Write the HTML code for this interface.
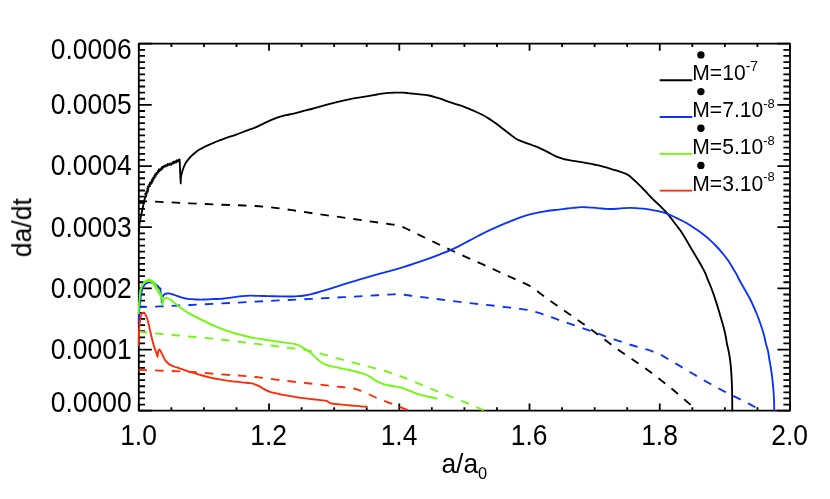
<!DOCTYPE html>
<html><head><meta charset="utf-8"><title>da/dt vs a/a0</title>
<style>
html,body{margin:0;padding:0;background:#fff;}
body{width:830px;height:499px;overflow:hidden;}
svg{display:block;}
text{font-family:"Liberation Sans",sans-serif;fill:#000;}
.c{fill:none;stroke-width:1.85;stroke-linejoin:round;stroke-linecap:butt;}
.d{stroke-dasharray:8.5 8.1;}
.f{fill:none;stroke:#000;stroke-width:1.8;}
.tk{font-size:26.4px;}
.lg{font-size:21.1px;}
</style></head><body>
<svg width="830" height="499" viewBox="0 0 830 499">
<rect x="0" y="0" width="830" height="499" fill="#fff"/>

<path class="f" d="M138.80,410.70 h13.0 M790.00,410.70 h-12.6 M138.80,404.58 h6.2 M790.00,404.58 h-6.6 M138.80,398.47 h6.2 M790.00,398.47 h-6.6 M138.80,392.35 h6.2 M790.00,392.35 h-6.6 M138.80,386.23 h6.2 M790.00,386.23 h-6.6 M138.80,380.12 h6.2 M790.00,380.12 h-6.6 M138.80,374.00 h6.2 M790.00,374.00 h-6.6 M138.80,367.88 h6.2 M790.00,367.88 h-6.6 M138.80,361.77 h6.2 M790.00,361.77 h-6.6 M138.80,355.65 h6.2 M790.00,355.65 h-6.6 M138.80,349.53 h13.0 M790.00,349.53 h-12.6 M138.80,343.42 h6.2 M790.00,343.42 h-6.6 M138.80,337.30 h6.2 M790.00,337.30 h-6.6 M138.80,331.18 h6.2 M790.00,331.18 h-6.6 M138.80,325.07 h6.2 M790.00,325.07 h-6.6 M138.80,318.95 h6.2 M790.00,318.95 h-6.6 M138.80,312.83 h6.2 M790.00,312.83 h-6.6 M138.80,306.72 h6.2 M790.00,306.72 h-6.6 M138.80,300.60 h6.2 M790.00,300.60 h-6.6 M138.80,294.48 h6.2 M790.00,294.48 h-6.6 M138.80,288.37 h13.0 M790.00,288.37 h-12.6 M138.80,282.25 h6.2 M790.00,282.25 h-6.6 M138.80,276.13 h6.2 M790.00,276.13 h-6.6 M138.80,270.02 h6.2 M790.00,270.02 h-6.6 M138.80,263.90 h6.2 M790.00,263.90 h-6.6 M138.80,257.78 h6.2 M790.00,257.78 h-6.6 M138.80,251.67 h6.2 M790.00,251.67 h-6.6 M138.80,245.55 h6.2 M790.00,245.55 h-6.6 M138.80,239.43 h6.2 M790.00,239.43 h-6.6 M138.80,233.32 h6.2 M790.00,233.32 h-6.6 M138.80,227.20 h13.0 M790.00,227.20 h-12.6 M138.80,221.08 h6.2 M790.00,221.08 h-6.6 M138.80,214.97 h6.2 M790.00,214.97 h-6.6 M138.80,208.85 h6.2 M790.00,208.85 h-6.6 M138.80,202.73 h6.2 M790.00,202.73 h-6.6 M138.80,196.62 h6.2 M790.00,196.62 h-6.6 M138.80,190.50 h6.2 M790.00,190.50 h-6.6 M138.80,184.38 h6.2 M790.00,184.38 h-6.6 M138.80,178.27 h6.2 M790.00,178.27 h-6.6 M138.80,172.15 h6.2 M790.00,172.15 h-6.6 M138.80,166.03 h13.0 M790.00,166.03 h-12.6 M138.80,159.92 h6.2 M790.00,159.92 h-6.6 M138.80,153.80 h6.2 M790.00,153.80 h-6.6 M138.80,147.68 h6.2 M790.00,147.68 h-6.6 M138.80,141.57 h6.2 M790.00,141.57 h-6.6 M138.80,135.45 h6.2 M790.00,135.45 h-6.6 M138.80,129.33 h6.2 M790.00,129.33 h-6.6 M138.80,123.22 h6.2 M790.00,123.22 h-6.6 M138.80,117.10 h6.2 M790.00,117.10 h-6.6 M138.80,110.98 h6.2 M790.00,110.98 h-6.6 M138.80,104.87 h13.0 M790.00,104.87 h-12.6 M138.80,98.75 h6.2 M790.00,98.75 h-6.6 M138.80,92.63 h6.2 M790.00,92.63 h-6.6 M138.80,86.52 h6.2 M790.00,86.52 h-6.6 M138.80,80.40 h6.2 M790.00,80.40 h-6.6 M138.80,74.28 h6.2 M790.00,74.28 h-6.6 M138.80,68.17 h6.2 M790.00,68.17 h-6.6 M138.80,62.05 h6.2 M790.00,62.05 h-6.6 M138.80,55.93 h6.2 M790.00,55.93 h-6.6 M138.80,49.82 h6.2 M790.00,49.82 h-6.6 M138.80,43.70 h13.0 M790.00,43.70 h-12.6 M138.80,410.70 v-7.1 M138.80,43.70 v7.1 M171.36,410.70 v-3.4 M171.36,43.70 v3.4 M203.92,410.70 v-3.4 M203.92,43.70 v3.4 M236.48,410.70 v-3.4 M236.48,43.70 v3.4 M269.04,410.70 v-7.1 M269.04,43.70 v7.1 M301.60,410.70 v-3.4 M301.60,43.70 v3.4 M334.16,410.70 v-3.4 M334.16,43.70 v3.4 M366.72,410.70 v-3.4 M366.72,43.70 v3.4 M399.28,410.70 v-7.1 M399.28,43.70 v7.1 M431.84,410.70 v-3.4 M431.84,43.70 v3.4 M464.40,410.70 v-3.4 M464.40,43.70 v3.4 M496.96,410.70 v-3.4 M496.96,43.70 v3.4 M529.52,410.70 v-7.1 M529.52,43.70 v7.1 M562.08,410.70 v-3.4 M562.08,43.70 v3.4 M594.64,410.70 v-3.4 M594.64,43.70 v3.4 M627.20,410.70 v-3.4 M627.20,43.70 v3.4 M659.76,410.70 v-7.1 M659.76,43.70 v7.1 M692.32,410.70 v-3.4 M692.32,43.70 v3.4 M724.88,410.70 v-3.4 M724.88,43.70 v3.4 M757.44,410.70 v-3.4 M757.44,43.70 v3.4 M790.00,410.70 v-7.1 M790.00,43.70 v7.1"/>
<rect class="f" stroke-linejoin="round" x="138.8" y="43.7" width="651.2" height="367.0"/>
<clipPath id="cp"><rect x="137.6" y="43.7" width="653.6" height="367.9"/></clipPath>
<g clip-path="url(#cp)">
<path class="c" stroke="#000" d="M138.80,232.00 C138.93,230.00 138.95,227.99 139.20,226.00 C139.66,222.33 140.48,218.72 141.20,215.10 C141.76,212.29 142.40,209.50 143.00,206.70 C143.53,204.23 143.81,201.70 144.60,199.30 C145.05,197.94 145.77,196.68 146.36,195.37 L145.09,193.85 L146.86,193.43 L146.10,192.09 L147.97,191.70 L147.06,190.30 L148.38,189.75 L147.29,188.24 L148.62,187.69 L148.04,186.30 L149.95,186.15 L149.13,184.61 L150.73,184.31 L149.88,182.70 L152.02,182.77 L151.34,181.23 L153.04,181.05 L152.08,179.32 L153.64,179.11 L153.17,177.64 L154.91,177.54 L154.29,175.98 L155.90,175.83 L155.15,174.12 L156.87,174.07 L156.49,172.61 L158.34,172.66 L157.79,171.03 L159.42,171.06 L159.01,169.24 L160.93,170.03 L160.90,168.35 L162.38,168.76 L162.26,166.79 L163.77,167.24 L164.00,165.72 L165.65,166.53 L165.98,164.96 L167.38,165.80 L167.74,163.97 L169.16,164.92 L169.76,163.54 L171.25,164.87 L171.67,163.12 L173.00,163.59 L173.26,161.78 L174.81,162.87 L175.26,161.25 L176.69,162.19 L176.84,160.28 L178.52,161.11 L178.76,159.59 L179.60,159.40 C179.70,161.63 179.80,163.87 179.90,166.10 C180.03,169.07 180.15,172.03 180.30,175.00 C180.44,177.80 180.60,180.60 180.75,183.40 C180.80,181.60 180.70,179.79 180.90,178.00 C181.07,176.45 181.43,174.92 181.80,173.40 C182.14,172.02 182.55,170.65 183.00,169.30 C183.36,168.22 183.74,167.14 184.20,166.10 C184.73,164.90 185.31,163.72 186.00,162.60 C186.54,161.72 187.18,160.92 187.80,160.10 C188.51,159.15 189.20,158.18 190.00,157.30 C190.84,156.37 191.77,155.54 192.70,154.70 C193.77,153.73 194.85,152.77 196.00,151.90 C197.25,150.96 198.56,150.10 199.90,149.30 C201.23,148.50 202.61,147.79 204.00,147.10 C205.41,146.39 206.86,145.75 208.30,145.10 C210.03,144.32 211.75,143.54 213.50,142.80 C215.39,142.00 217.29,141.25 219.20,140.50 C221.13,139.75 223.05,138.98 225.00,138.30 C226.65,137.72 228.34,137.25 230.00,136.70 C232.31,135.93 234.61,135.13 236.90,134.30 C239.95,133.20 242.97,132.04 246.00,130.90 C249.37,129.64 252.79,128.51 256.10,127.10 C258.10,126.25 260.04,125.24 262.00,124.30 C264.07,123.31 266.11,122.25 268.20,121.30 C270.11,120.42 272.03,119.55 274.00,118.80 C276.04,118.02 278.11,117.32 280.20,116.70 C282.11,116.13 284.05,115.65 286.00,115.20 C288.09,114.71 290.21,114.38 292.30,113.90 C295.55,113.15 298.76,112.22 302.00,111.40 C305.20,110.59 308.41,109.84 311.60,109.00 C314.74,108.17 317.87,107.27 321.00,106.40 C324.27,105.50 327.52,104.56 330.80,103.70 C333.86,102.90 336.92,102.12 340.00,101.40 C343.36,100.62 346.72,99.87 350.10,99.20 C353.39,98.54 356.70,97.98 360.00,97.40 C363.13,96.85 366.27,96.33 369.40,95.80 C371.93,95.37 374.46,94.92 377.00,94.50 C379.30,94.12 381.59,93.70 383.90,93.40 C385.59,93.18 387.30,93.02 389.00,92.90 C390.50,92.79 392.00,92.75 393.50,92.70 C395.00,92.65 396.50,92.60 398.00,92.60 C399.70,92.60 401.40,92.61 403.10,92.70 C404.74,92.78 406.37,92.95 408.00,93.10 C409.60,93.25 411.20,93.43 412.80,93.60 C415.20,93.86 417.60,94.12 420.00,94.40 C423.10,94.76 426.24,94.89 429.30,95.50 C431.92,96.03 434.45,96.90 437.00,97.70 C440.06,98.66 443.07,99.77 446.10,100.80 C449.07,101.80 452.03,102.80 455.00,103.80 C458.47,104.97 461.98,106.01 465.40,107.30 C468.31,108.40 471.16,109.64 474.00,110.90 C476.79,112.14 479.59,113.38 482.30,114.80 C484.42,115.91 486.47,117.13 488.50,118.40 C490.48,119.64 492.40,120.96 494.30,122.30 C496.40,123.79 498.44,125.35 500.50,126.90 C502.48,128.39 504.44,129.89 506.40,131.40 C508.11,132.72 509.78,134.09 511.50,135.40 C512.98,136.52 514.41,137.74 516.00,138.70 C517.43,139.56 518.96,140.25 520.50,140.90 C522.20,141.62 523.97,142.16 525.70,142.80 C528.14,143.70 530.58,144.57 533.00,145.50 C535.38,146.41 537.76,147.29 540.10,148.30 C541.76,149.01 543.38,149.80 545.00,150.60 C546.62,151.40 548.20,152.26 549.80,153.10 C551.37,153.93 552.90,154.83 554.50,155.60 C556.10,156.37 557.73,157.09 559.40,157.70 C560.91,158.25 562.45,158.71 564.00,159.10 C565.65,159.51 567.33,159.79 569.00,160.10 C571.99,160.65 575.00,161.10 578.00,161.60 C581.43,162.17 584.88,162.66 588.30,163.30 C590.21,163.66 592.10,164.09 594.00,164.50 C596.14,164.96 598.28,165.38 600.40,165.90 C602.61,166.44 604.81,167.07 607.00,167.70 C609.51,168.43 612.00,169.23 614.50,170.00 C616.33,170.56 618.18,171.09 620.00,171.70 C621.88,172.33 623.79,172.89 625.60,173.70 C626.61,174.15 627.57,174.70 628.50,175.30 C629.38,175.87 630.20,176.53 631.00,177.20 C633.06,178.93 634.97,180.83 636.90,182.70 C639.38,185.09 641.80,187.53 644.20,190.00 C647.04,192.93 649.71,196.02 652.60,198.90 C655.25,201.55 658.15,203.95 660.80,206.60 C662.93,208.73 665.03,210.92 667.00,213.20 C668.75,215.23 670.35,217.38 672.00,219.50 C673.62,221.58 675.20,223.70 676.80,225.80 C677.87,227.20 679.00,228.55 680.00,230.00 C682.14,233.08 684.06,236.30 686.00,239.50 C688.06,242.90 689.98,246.38 692.00,249.80 C694.01,253.21 696.11,256.57 698.10,260.00 C699.94,263.18 701.78,266.36 703.50,269.60 C704.23,270.98 704.97,272.37 705.60,273.80 C706.51,275.89 707.15,278.08 708.00,280.20 C708.98,282.65 710.13,285.04 711.10,287.50 C712.03,289.84 712.87,292.22 713.70,294.60 C714.54,297.02 715.32,299.46 716.10,301.90 C716.88,304.33 717.66,306.76 718.40,309.20 C719.13,311.59 719.80,314.00 720.50,316.40 C721.24,318.93 722.00,321.46 722.70,324.00 C723.43,326.66 724.18,329.31 724.80,332.00 C725.26,333.99 725.63,335.99 726.00,338.00 C726.37,339.99 726.61,342.01 727.00,344.00 C727.46,346.35 728.13,348.65 728.60,351.00 C729.10,353.49 729.54,355.99 729.90,358.50 C730.23,360.82 730.47,363.16 730.70,365.50 C730.94,367.96 731.13,370.43 731.30,372.90 C731.46,375.26 731.59,377.63 731.70,380.00 C731.82,382.47 731.93,384.93 732.00,387.40 C732.10,390.93 732.15,394.47 732.20,398.00 C732.26,402.53 732.27,407.07 732.30,411.60"/>
<path class="c d" stroke="#000" d="M138.50,201.00 C145.67,201.30 152.83,201.58 160.00,201.90 C170.00,202.34 180.00,202.83 190.00,203.30 C200.00,203.77 210.00,204.30 220.00,204.70 C228.03,205.02 236.07,205.12 244.10,205.50 C252.14,205.88 260.19,206.22 268.20,207.00 C276.27,207.79 284.28,209.07 292.30,210.20 C300.34,211.33 308.36,212.63 316.40,213.80 C324.43,214.97 332.47,216.07 340.50,217.20 C348.53,218.33 356.57,219.47 364.60,220.60 C372.63,221.73 380.66,222.88 388.70,224.00 C391.13,224.34 393.59,224.53 396.00,225.00 C397.59,225.31 399.17,225.69 400.70,226.20 C402.17,226.69 403.58,227.37 405.00,228.00 C406.75,228.77 408.48,229.57 410.20,230.40 C413.49,231.98 416.73,233.68 420.00,235.30 C424.69,237.62 429.38,239.94 434.10,242.20 C442.10,246.03 450.13,249.82 458.20,253.50 C466.20,257.15 474.29,260.59 482.30,264.20 C490.35,267.83 498.36,271.54 506.40,275.20 C511.60,277.57 516.81,279.90 522.00,282.30 C524.77,283.58 527.66,284.65 530.30,286.20 C532.67,287.59 534.79,289.37 537.00,291.00 C539.63,292.93 542.17,294.97 544.80,296.90 C548.69,299.76 552.65,302.52 556.60,305.30 C560.62,308.12 564.67,310.90 568.70,313.70 C573.50,317.03 578.34,320.31 583.10,323.70 C588.25,327.37 593.32,331.13 598.40,334.90 C604.33,339.30 610.10,343.90 616.10,348.20 C622.43,352.74 629.01,356.93 635.40,361.40 C641.08,365.37 646.75,369.35 652.30,373.50 C658.02,377.78 663.65,382.20 669.20,386.70 C674.07,390.65 678.83,394.73 683.60,398.80 C686.59,401.35 689.53,403.93 692.50,406.50"/>
<path class="c" stroke="#0a32ff" d="M138.50,325.00 C138.63,321.67 138.71,318.33 138.90,315.00 C139.05,312.33 139.25,309.66 139.50,307.00 C139.69,305.00 139.95,303.00 140.20,301.00 C140.45,299.00 140.66,296.99 141.00,295.00 C141.28,293.36 141.52,291.70 142.00,290.10 C142.36,288.90 142.81,287.71 143.40,286.60 C143.87,285.71 144.39,284.81 145.10,284.10 C145.64,283.56 146.30,283.10 147.00,282.80 C147.72,282.49 148.52,282.34 149.30,282.30 C150.11,282.26 150.91,282.44 151.70,282.60 C152.28,282.72 152.82,282.99 153.40,283.10 C153.71,283.16 154.03,283.15 154.34,283.17 L154.43,284.41 L155.56,284.21 L155.73,285.24 L156.97,285.09 L157.04,286.18 L158.09,286.22 L158.01,287.51 L159.19,287.39 L159.31,288.45 L160.53,288.31 C160.48,288.75 160.37,289.19 160.38,289.64 C160.44,291.79 161.23,293.86 161.45,296.00 C161.67,298.12 161.62,300.27 161.70,302.40 C161.80,301.47 161.87,300.53 162.00,299.60 C162.13,298.66 162.15,297.68 162.50,296.80 C162.75,296.17 163.14,295.60 163.60,295.10 C163.97,294.70 164.42,294.36 164.90,294.10 C165.46,293.80 166.08,293.62 166.70,293.50 C167.32,293.38 167.97,293.36 168.60,293.40 C169.41,293.45 170.21,293.60 171.00,293.80 C171.82,294.00 172.60,294.32 173.40,294.60 C174.61,295.02 175.79,295.48 177.00,295.90 C178.19,296.31 179.39,296.72 180.60,297.10 C181.73,297.45 182.85,297.83 184.00,298.10 C185.25,298.40 186.52,298.62 187.80,298.80 C189.19,298.99 190.60,299.08 192.00,299.20 C193.43,299.32 194.86,299.43 196.30,299.50 C197.70,299.57 199.10,299.60 200.50,299.60 C201.90,299.60 203.30,299.55 204.70,299.50 C206.30,299.45 207.90,299.38 209.50,299.30 C211.10,299.22 212.70,299.06 214.30,299.00 C216.20,298.92 218.10,299.02 220.00,298.90 C222.34,298.75 224.67,298.39 227.00,298.10 C229.50,297.79 232.00,297.42 234.50,297.10 C237.00,296.78 239.49,296.43 242.00,296.20 C244.69,295.96 247.40,295.75 250.10,295.70 C253.07,295.64 256.03,295.83 259.00,295.90 C262.07,295.97 265.13,296.03 268.20,296.10 C272.13,296.19 276.07,296.33 280.00,296.40 C284.10,296.47 288.20,296.59 292.30,296.50 C294.20,296.46 296.10,296.36 298.00,296.20 C300.11,296.03 302.21,295.82 304.30,295.50 C306.75,295.13 309.19,294.66 311.60,294.10 C313.59,293.64 315.54,293.06 317.50,292.50 C319.54,291.92 321.57,291.31 323.60,290.70 C326.41,289.85 329.20,288.98 332.00,288.10 C334.84,287.21 337.67,286.30 340.50,285.40 C343.67,284.40 346.83,283.39 350.00,282.40 C353.26,281.39 356.53,280.37 359.80,279.40 C363.03,278.44 366.26,277.53 369.50,276.60 C372.66,275.69 375.83,274.78 379.00,273.90 C382.16,273.02 385.33,272.17 388.50,271.30 C391.77,270.40 395.04,269.53 398.30,268.60 C400.21,268.05 402.10,267.48 404.00,266.90 C406.01,266.28 408.01,265.65 410.00,265.00 C413.35,263.90 416.67,262.76 420.00,261.60 C423.11,260.52 426.21,259.43 429.30,258.30 C432.88,257.00 436.45,255.67 440.00,254.30 C443.68,252.88 447.39,251.49 451.00,249.90 C453.88,248.63 456.69,247.22 459.50,245.80 C462.29,244.39 465.03,242.86 467.80,241.40 C471.03,239.69 474.26,237.99 477.50,236.30 C480.70,234.63 483.85,232.87 487.10,231.30 C490.35,229.73 493.69,228.34 497.00,226.90 C500.12,225.54 503.25,224.19 506.40,222.90 C509.58,221.59 512.78,220.30 516.00,219.10 C519.21,217.90 522.42,216.69 525.70,215.70 C528.93,214.72 532.21,213.95 535.50,213.20 C538.62,212.49 541.75,211.83 544.90,211.30 C548.08,210.76 551.30,210.40 554.50,210.00 C557.73,209.60 560.97,209.27 564.20,208.90 C567.13,208.57 570.06,208.19 573.00,207.90 C575.70,207.63 578.39,207.29 581.10,207.20 C583.07,207.13 585.03,207.22 587.00,207.30 C589.04,207.38 591.07,207.55 593.10,207.70 C595.40,207.88 597.70,208.10 600.00,208.30 C602.00,208.47 604.00,208.68 606.00,208.80 C608.00,208.92 610.00,209.03 612.00,209.00 C614.00,208.97 616.00,208.75 618.00,208.60 C620.03,208.45 622.06,208.22 624.10,208.10 C626.06,207.99 628.03,207.90 630.00,207.90 C632.03,207.90 634.07,207.98 636.10,208.10 C638.07,208.22 640.04,208.41 642.00,208.60 C644.07,208.80 646.14,208.99 648.20,209.30 C650.15,209.59 652.07,210.01 654.00,210.40 C656.07,210.81 658.15,211.19 660.20,211.70 C662.15,212.19 664.10,212.73 666.00,213.40 C668.14,214.15 670.22,215.08 672.30,216.00 C673.95,216.73 675.58,217.51 677.20,218.30 C678.88,219.11 680.54,219.95 682.20,220.80 C683.54,221.49 684.89,222.15 686.20,222.90 C688.18,224.03 690.09,225.27 692.00,226.50 C694.06,227.83 696.10,229.18 698.10,230.60 C700.14,232.05 702.14,233.55 704.10,235.10 C706.14,236.71 708.17,238.35 710.10,240.10 C712.18,241.98 714.16,243.97 716.10,246.00 C718.20,248.20 720.25,250.46 722.20,252.80 C724.30,255.32 726.35,257.89 728.20,260.60 C730.16,263.46 731.80,266.53 733.60,269.50 C734.57,271.10 735.60,272.66 736.50,274.30 C737.58,276.26 738.45,278.33 739.50,280.30 C740.80,282.74 742.23,285.10 743.60,287.50 C744.83,289.67 746.09,291.82 747.30,294.00 C748.49,296.15 749.70,298.30 750.80,300.50 C751.87,302.63 752.83,304.82 753.80,307.00 C754.76,309.15 755.72,311.31 756.60,313.50 C757.80,316.47 758.94,319.47 760.00,322.50 C761.11,325.64 762.15,328.81 763.10,332.00 C763.69,333.98 764.21,335.99 764.70,338.00 C765.18,339.99 765.50,342.02 766.00,344.00 C766.59,346.35 767.47,348.63 768.00,351.00 C768.55,353.47 768.78,356.00 769.20,358.50 C769.68,361.34 770.24,364.16 770.70,367.00 C771.17,369.93 771.62,372.86 772.00,375.80 C772.35,378.53 772.63,381.26 772.90,384.00 C773.16,386.56 773.42,389.13 773.60,391.70 C773.79,394.46 773.90,397.23 774.00,400.00 C774.14,403.87 774.20,407.73 774.30,411.60"/>
<path class="c d" stroke="#0a32ff" d="M138.50,307.20 C145.67,306.93 152.83,306.70 160.00,306.40 C170.00,305.98 180.00,305.48 190.00,305.00 C200.00,304.52 210.00,304.01 220.00,303.50 C232.03,302.88 244.07,302.22 256.10,301.60 C268.17,300.98 280.23,300.40 292.30,299.80 C304.33,299.20 316.37,298.63 328.40,298.00 C340.47,297.37 352.53,296.69 364.60,296.00 C371.40,295.61 378.20,295.20 385.00,294.80 C387.83,294.63 390.66,294.38 393.50,294.30 C395.00,294.26 396.50,294.24 398.00,294.30 C399.70,294.37 401.40,294.53 403.10,294.70 C406.34,295.03 409.57,295.50 412.80,295.90 C416.57,296.37 420.34,296.82 424.10,297.30 C432.14,298.33 440.16,299.48 448.20,300.50 C456.23,301.52 464.26,302.48 472.30,303.40 C480.33,304.32 488.37,305.08 496.40,306.00 C504.44,306.92 512.48,307.86 520.50,308.90 C522.67,309.18 524.85,309.42 527.00,309.80 C528.85,310.13 530.69,310.52 532.50,311.00 C534.36,311.49 536.17,312.11 538.00,312.70 C540.21,313.41 542.41,314.15 544.60,314.90 C552.66,317.66 560.65,320.61 568.70,323.40 C576.72,326.18 584.81,328.75 592.80,331.60 C596.59,332.95 600.32,334.45 604.10,335.80 C612.10,338.66 620.10,341.53 628.20,344.10 C633.76,345.87 639.42,347.31 645.00,349.00 C647.44,349.74 649.90,350.44 652.30,351.30 C653.89,351.87 655.45,352.54 657.00,353.20 C658.65,353.90 660.31,354.58 661.90,355.40 C664.00,356.49 665.96,357.81 668.00,359.00 C670.80,360.64 673.61,362.25 676.40,363.90 C684.46,368.66 692.39,373.64 700.50,378.30 C708.46,382.87 716.47,387.34 724.60,391.60 C732.55,395.77 740.75,399.43 748.70,403.60 C751.94,405.30 755.10,407.13 758.30,408.90"/>
<path class="c" stroke="#6cf90a" d="M138.60,314.00 C138.73,310.67 138.75,307.33 139.00,304.00 C139.20,301.37 139.58,298.76 139.87,296.14 L139.44,295.21 L140.04,294.45 L139.79,293.55 L140.45,292.79 L140.14,291.88 L140.66,291.11 L140.28,290.18 L140.90,289.45 L140.80,288.52 L141.59,287.88 L141.39,286.93 L142.02,286.23 L141.88,285.23 L142.83,284.82 L142.89,283.85 L143.81,283.43 L143.73,282.23 L144.90,282.29 L145.03,281.13 L146.35,281.72 L146.66,280.32 L147.65,281.11 L148.42,279.50 L149.33,280.66 L150.37,279.82 L150.65,281.66 L151.98,280.85 L151.88,282.29 L153.52,281.66 L152.75,283.53 L154.35,283.43 L153.78,284.88 L155.66,284.58 L154.93,286.08 L156.36,286.25 L155.41,287.76 L157.00,287.84 L156.42,289.17 L158.21,289.08 L157.60,290.44 L159.00,290.59 L158.04,292.19 L159.71,292.13 L159.19,293.48 L160.93,293.36 L159.90,295.02 L161.50,295.03 L160.84,296.44 L162.00,297.20 C162.07,298.47 162.13,299.73 162.20,301.00 C162.28,302.33 162.37,303.67 162.45,305.00 C162.63,303.93 162.73,302.85 163.00,301.80 C163.18,301.12 163.34,300.41 163.70,299.80 C163.98,299.33 164.36,298.92 164.80,298.60 C165.19,298.32 165.67,298.20 166.10,298.00 C166.73,298.10 167.39,298.10 168.00,298.30 C168.64,298.50 169.23,298.84 169.80,299.20 C170.87,299.87 171.82,300.71 172.80,301.50 C173.82,302.31 174.79,303.18 175.80,304.00 C176.98,304.95 178.18,305.89 179.40,306.80 C180.58,307.69 181.78,308.57 183.00,309.40 C184.64,310.51 186.32,311.56 188.00,312.60 C189.55,313.56 191.10,314.52 192.70,315.40 C194.11,316.18 195.56,316.88 197.00,317.60 C198.36,318.28 199.73,318.94 201.10,319.60 C203.23,320.64 205.36,321.68 207.50,322.70 C209.76,323.78 212.00,324.92 214.30,325.90 C216.17,326.70 218.10,327.38 220.00,328.10 C222.49,329.05 224.98,330.02 227.50,330.90 C230.12,331.82 232.74,332.71 235.40,333.50 C237.91,334.24 240.46,334.87 243.00,335.50 C245.59,336.14 248.19,336.76 250.80,337.30 C253.36,337.83 255.93,338.27 258.50,338.70 C261.09,339.14 263.70,339.50 266.30,339.90 C268.87,340.30 271.43,340.72 274.00,341.10 C276.56,341.48 279.13,341.85 281.70,342.20 C283.97,342.51 286.24,342.78 288.50,343.10 C290.74,343.41 293.01,343.54 295.20,344.10 C296.51,344.43 297.77,344.95 299.00,345.50 C300.35,346.11 301.63,346.86 302.90,347.60 C304.19,348.36 305.46,349.16 306.70,350.00 C308.03,350.89 309.36,351.79 310.60,352.80 C311.97,353.92 313.20,355.20 314.50,356.40 C315.77,357.57 316.98,358.80 318.30,359.90 C319.49,360.89 320.69,361.88 322.00,362.70 C323.27,363.49 324.62,364.14 326.00,364.70 C327.46,365.29 328.98,365.70 330.50,366.10 C332.21,366.55 333.97,366.84 335.70,367.20 C338.30,367.74 340.90,368.24 343.50,368.80 C346.04,369.34 348.57,369.90 351.10,370.50 C353.74,371.13 356.39,371.75 359.00,372.50 C361.52,373.22 364.10,373.84 366.50,374.90 C367.73,375.44 368.85,376.20 370.00,376.90 C371.53,377.83 372.97,378.88 374.50,379.80 C376.17,380.81 377.82,381.88 379.60,382.70 C381.02,383.35 382.50,383.86 384.00,384.30 C385.74,384.81 387.52,385.16 389.30,385.50 C391.19,385.86 393.10,386.07 395.00,386.40 C396.94,386.74 398.90,386.99 400.80,387.50 C402.06,387.84 403.27,388.35 404.50,388.80 C405.88,389.31 407.24,389.86 408.60,390.40 C410.24,391.05 411.86,391.75 413.50,392.40 C415.06,393.02 416.60,393.68 418.20,394.20 C419.78,394.71 421.39,395.11 423.00,395.50 C424.59,395.88 426.20,396.16 427.80,396.50 C429.37,396.83 430.94,397.15 432.50,397.50 C434.17,397.88 435.83,398.30 437.50,398.70"/>
<path class="c d" stroke="#6cf90a" d="M138.50,331.70 C145.67,332.40 152.83,333.12 160.00,333.80 C166.07,334.38 172.13,334.94 178.20,335.50 C185.47,336.17 192.73,336.82 200.00,337.50 C206.67,338.12 213.34,338.67 220.00,339.40 C226.44,340.11 232.86,341.02 239.30,341.80 C245.73,342.58 252.17,343.33 258.60,344.10 C265.00,344.86 271.40,345.60 277.80,346.40 C284.24,347.20 290.67,348.08 297.10,348.90 C299.73,349.24 302.37,349.52 305.00,349.90 C306.87,350.17 308.75,350.40 310.60,350.80 C313.10,351.34 315.54,352.11 318.00,352.80 C320.67,353.55 323.33,354.34 326.00,355.10 C332.43,356.92 338.85,358.76 345.30,360.50 C351.72,362.23 358.17,363.80 364.60,365.50 C368.44,366.51 372.28,367.53 376.10,368.60 C380.51,369.83 384.95,370.99 389.30,372.40 C395.81,374.51 402.23,376.90 408.60,379.40 C415.07,381.94 421.37,384.86 427.80,387.50 C434.21,390.13 440.67,392.63 447.10,395.20 C453.53,397.77 460.01,400.24 466.40,402.90 C472.20,405.31 477.93,407.90 483.70,410.40"/>
<path class="c" stroke="#ff2a00" d="M138.40,346.00 C138.57,342.00 138.68,338.00 138.90,334.00 C139.09,330.70 139.25,327.39 139.60,324.10 C139.80,322.23 140.04,320.35 140.40,318.50 C140.66,317.15 140.87,315.77 141.40,314.50 C141.62,313.96 142.00,313.50 142.30,313.00 L143.30,312.70 C143.70,312.93 144.16,313.09 144.50,313.40 C145.01,313.87 145.37,314.49 145.70,315.10 C146.20,316.02 146.54,317.02 146.90,318.00 C147.35,319.22 147.75,320.45 148.10,321.70 C148.57,323.38 148.92,325.10 149.30,326.80 C149.72,328.70 150.08,330.61 150.50,332.50 C150.97,334.61 151.48,336.70 152.00,338.80 C152.48,340.74 152.95,342.68 153.50,344.60 C153.87,345.88 154.28,347.14 154.70,348.40 C155.08,349.54 155.50,350.67 155.90,351.80 C156.20,352.67 156.50,353.53 156.80,354.40 C157.07,355.20 157.33,356.00 157.60,356.80 C157.73,355.53 157.81,354.26 158.00,353.00 C158.13,352.13 158.33,351.27 158.50,350.40 L159.50,349.40 C159.90,350.00 160.34,350.58 160.70,351.20 C161.15,351.97 161.51,352.80 161.90,353.60 C162.41,354.66 162.89,355.74 163.40,356.80 C163.89,357.81 164.28,358.87 164.90,359.80 C165.55,360.79 166.35,361.68 167.20,362.50 C168.00,363.28 168.85,364.02 169.80,364.60 C171.11,365.41 172.57,365.94 174.00,366.50 C175.37,367.04 176.80,367.43 178.20,367.90 C180.14,368.56 182.06,369.25 184.00,369.90 C186.06,370.59 188.13,371.24 190.20,371.90 C192.13,372.51 194.06,373.12 196.00,373.70 C198.09,374.32 200.19,374.92 202.30,375.50 C204.19,376.02 206.09,376.52 208.00,377.00 C210.09,377.52 212.18,378.08 214.30,378.50 C216.19,378.87 218.10,379.10 220.00,379.40 C222.50,379.80 225.00,380.23 227.50,380.60 C230.13,380.99 232.76,381.38 235.40,381.70 C238.26,382.05 241.13,382.31 244.00,382.60 C246.00,382.80 248.01,382.92 250.00,383.20 C250.94,383.33 251.88,383.47 252.80,383.70 C253.72,383.93 254.61,384.27 255.50,384.60 C256.55,384.99 257.60,385.40 258.60,385.90 C259.95,386.58 261.20,387.44 262.50,388.20 C263.76,388.94 264.98,389.77 266.30,390.40 C267.49,390.97 268.75,391.39 270.00,391.80 C271.31,392.23 272.66,392.57 274.00,392.90 C276.15,393.43 278.33,393.86 280.50,394.30 C282.83,394.77 285.16,395.18 287.50,395.60 C290.00,396.05 292.50,396.49 295.00,396.90 C297.63,397.33 300.26,397.74 302.90,398.10 C305.10,398.40 307.30,398.65 309.50,398.90 C311.80,399.16 314.10,399.34 316.40,399.60 C318.27,399.81 320.13,400.06 322.00,400.30 C323.50,400.49 325.06,400.43 326.50,400.90 C327.22,401.14 327.84,401.63 328.50,402.00 C329.27,402.43 329.97,403.01 330.80,403.30 C331.98,403.71 333.26,403.74 334.50,403.90 C336.16,404.12 337.83,404.24 339.50,404.40 C342.00,404.64 344.50,404.87 347.00,405.10 C349.67,405.34 352.33,405.57 355.00,405.80 C357.00,405.97 359.00,406.16 361.00,406.30 C363.17,406.46 365.33,406.57 367.50,406.70"/>
<path class="c d" stroke="#ff2a00" d="M138.50,369.90 C145.67,370.13 152.83,370.35 160.00,370.60 C166.07,370.82 172.14,371.02 178.20,371.30 C185.47,371.64 192.74,371.97 200.00,372.50 C206.68,372.98 213.33,373.78 220.00,374.30 C226.43,374.81 232.87,375.10 239.30,375.60 C245.74,376.10 252.18,376.60 258.60,377.30 C265.02,378.00 271.40,379.00 277.80,379.80 C284.23,380.60 290.66,381.37 297.10,382.10 C303.53,382.83 309.97,383.47 316.40,384.20 C322.84,384.93 329.26,385.80 335.70,386.50 C339.13,386.87 342.57,387.13 346.00,387.50 C347.70,387.68 349.41,387.83 351.10,388.10 C352.75,388.36 354.39,388.66 356.00,389.10 C357.60,389.53 359.16,390.10 360.70,390.70 C362.33,391.33 363.90,392.09 365.50,392.80 C367.14,393.53 368.77,394.26 370.40,395.00 C372.64,396.02 374.84,397.13 377.10,398.10 C381.12,399.82 385.23,401.31 389.30,402.90 C395.39,405.28 401.50,407.63 407.60,410.00"/>
</g>
<g style="will-change:transform">
<text class="tk" transform="translate(131.6,59.4) scale(1,1.090)" text-anchor="end">0.0006</text>
<text class="tk" transform="translate(131.6,114.1) scale(1,1.090)" text-anchor="end">0.0005</text>
<text class="tk" transform="translate(131.6,175.0) scale(1,1.090)" text-anchor="end">0.0004</text>
<text class="tk" transform="translate(131.6,236.8) scale(1,1.090)" text-anchor="end">0.0003</text>
<text class="tk" transform="translate(131.6,297.9) scale(1,1.090)" text-anchor="end">0.0002</text>
<text class="tk" transform="translate(131.6,359.0) scale(1,1.090)" text-anchor="end">0.0001</text>
<text class="tk" transform="translate(131.6,412.1) scale(1,1.090)" text-anchor="end">0.0000</text>
<text class="tk" transform="translate(138.5,444.8) scale(1,1.090)" text-anchor="middle">1.0</text>
<text class="tk" transform="translate(268.7,444.8) scale(1,1.090)" text-anchor="middle">1.2</text>
<text class="tk" transform="translate(399.0,444.8) scale(1,1.090)" text-anchor="middle">1.4</text>
<text class="tk" transform="translate(529.2,444.8) scale(1,1.090)" text-anchor="middle">1.6</text>
<text class="tk" transform="translate(659.5,444.8) scale(1,1.090)" text-anchor="middle">1.8</text>
<text class="tk" transform="translate(789.7,444.8) scale(1,1.090)" text-anchor="middle">2.0</text>
<text class="tk" transform="translate(441.4,472.5) scale(1,1.035)">a/a<tspan font-size="16.4px" dy="5.8">0</tspan></text>
<text class="tk" style="font-size:26.6px" transform="translate(30.8,227.7) rotate(-90) scale(1,1.065)" text-anchor="middle">da/dt</text>
<path class="c" stroke="#000" d="M659.7,80.25 H692.3"/>
<circle cx="700.9" cy="54.9" r="3.7" fill="#000"/>
<text class="lg" transform="translate(692.3,80.4) scale(1,1.045)">M=10<tspan font-size="14.0px" dy="-9.4">-7</tspan></text>
<path class="c" stroke="#0a32ff" d="M659.7,117.00 H692.3"/>
<circle cx="700.9" cy="91.6" r="3.7" fill="#000"/>
<text class="lg" transform="translate(692.3,117.1) scale(1,1.045)">M=7.10<tspan font-size="13.0px" dy="-8.4">-8</tspan></text>
<path class="c" stroke="#6cf90a" d="M659.7,153.90 H692.3"/>
<circle cx="700.9" cy="128.3" r="3.7" fill="#000"/>
<text class="lg" transform="translate(692.3,153.6) scale(1,1.045)">M=5.10<tspan font-size="13.0px" dy="-8.5">-8</tspan></text>
<path class="c" stroke="#ff2a00" d="M659.7,190.60 H692.3"/>
<circle cx="700.9" cy="165.4" r="3.7" fill="#000"/>
<text class="lg" transform="translate(692.3,190.7) scale(1,1.045)">M=3.10<tspan font-size="13.0px" dy="-9.0">-8</tspan></text>
</g>
</svg></body></html>
